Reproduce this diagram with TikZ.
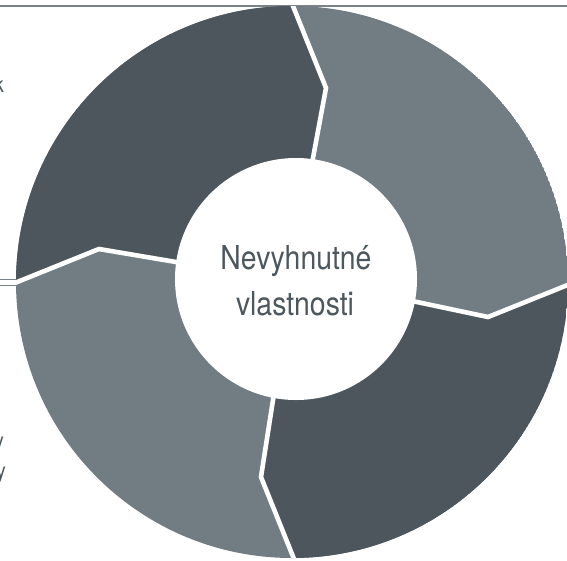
\documentclass[tikz,border=0pt]{standalone}
\usepackage{fontspec}
\setmainfont[FakeStretch=0.86]{TeX Gyre Heros}
\definecolor{segdark}{HTML}{4C565C}
\definecolor{seglight}{HTML}{717C83}
\definecolor{txtgray}{HTML}{4D575E}
\definecolor{rulegray}{HTML}{7A8388}
\begin{document}
\begin{tikzpicture}[x=1pt,y=-1pt,
  sepline/.style={white,line width=4.6pt,line join=miter},
  rulestyle/.style={rulegray,line width=1.8pt},
  thinrule/.style={rulegray,line width=0.9pt},
  hubtext/.style={text=txtgray,font=\fontsize{33}{40}\selectfont,anchor=base,inner sep=0pt},
  edgetext/.style={text=txtgray,font=\fontsize{22}{26}\selectfont,anchor=base east,inner sep=0pt}]
\useasboundingbox (0,0) rectangle (567,560);
% background rules
\coordinate (rtl) at (0,6);
\coordinate (rtr) at (567,6);
\draw[rulestyle] (rtl) -- (rtr);
\coordinate (la1) at (0,279);
\coordinate (lb1) at (18,279);
\coordinate (la2) at (0,285);
\coordinate (lb2) at (18,285);
\draw[thinrule] (la1) -- (lb1);
\draw[thinrule] (la2) -- (lb2);
% cut-off texts at the left edge
\node[edgetext] (e1) at (4,92) {k};
\node[edgetext] (e2) at (4,448) {y};
\node[edgetext] (e3) at (6,478) {y};
% ring
\begin{scope}
  \clip (292,282) circle (276);
  \fill[seglight] (292,282) circle (276);
  \fill[segdark] (292,282) -- (176,262) -- (99,249) -- (-20,297) -- (-20,-20)
     -- (282.5,-20) -- (326,88) -- (313,158) -- cycle;
  \fill[segdark] (292,282) -- (417,302) -- (488,317) -- (590,276) -- (590,590)
     -- (306.5,590) -- (261,477) -- (273,400) -- cycle;
  \draw[sepline] (310,175) -- (313,158) -- (326,88) -- (282.5,-20);
  \draw[sepline] (400,299) -- (417,302) -- (488,317) -- (590,276);
  \draw[sepline] (276,383) -- (273,400) -- (261,477) -- (306.5,590);
  \draw[sepline] (193,265) -- (176,262) -- (99,249) -- (-20,297);
\end{scope}
% hub
\node[circle,fill=white,minimum size=242pt,inner sep=0pt] (hub) at (296,279) {};
\node[hubtext] (t1) at (296,269) {Nevyhnutné};
\node[hubtext] (t2) at (295,315) {vlastnosti};
\end{tikzpicture}
\end{document}
